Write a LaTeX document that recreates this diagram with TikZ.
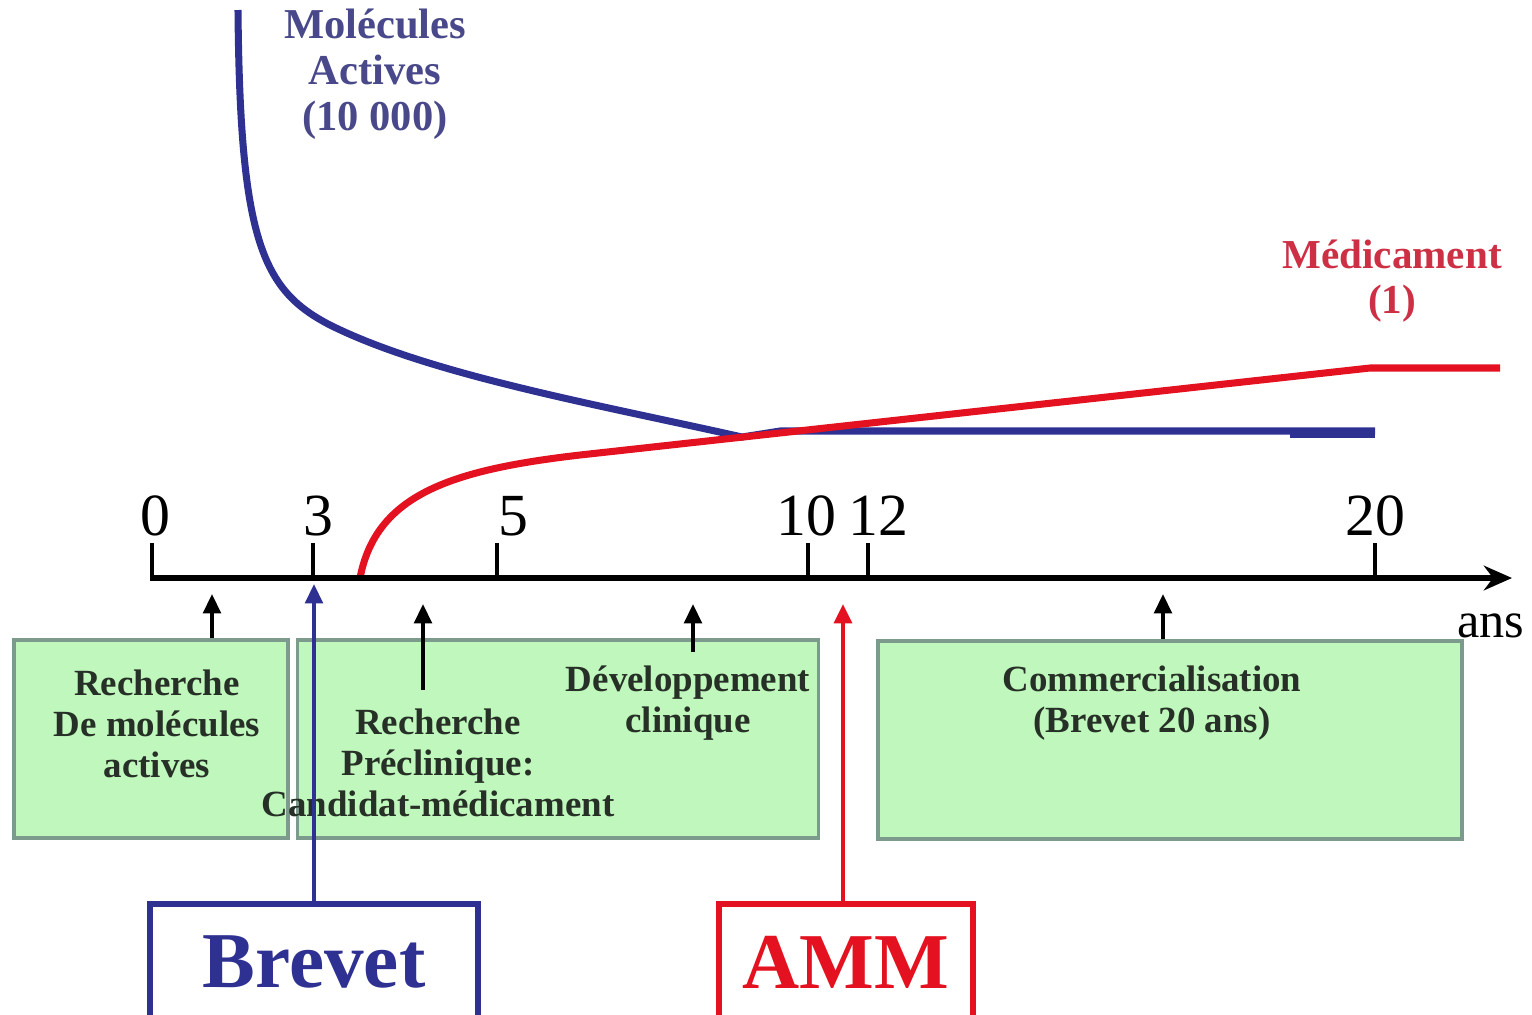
\documentclass[tikz,border=0pt]{standalone}
\usepackage{fontspec}
\setmainfont{Liberation Serif}
\usetikzlibrary{arrows.meta}
\definecolor{molblue}{RGB}{46,49,146}
\definecolor{medred}{RGB}{228,18,32}
\definecolor{boxgreen}{RGB}{192,247,188}
\definecolor{boxedge}{RGB}{125,155,140}
\definecolor{boxtext}{RGB}{38,48,38}
\definecolor{labblue}{RGB}{72,72,138}
\definecolor{labred}{RGB}{205,48,68}

\begin{document}
\begin{tikzpicture}[
  x=0.01cm,
  y=-0.01cm,
  blue curve/.style={
    draw,
    molblue,
    line width=2pt
  },
  red curve/.style={
    draw,
    medred,
    line width=2pt
  },
  axis line/.style={
    line width=1.7pt,
    -{Stealth[length=8pt,width=7pt]}
  },
  tick line/.style={
    line width=1.1pt
  },
  tick label/.style={
    anchor=base,
    inner sep=0pt,
    font=\fontsize{17}{17}\selectfont
  },
  phase box/.style={
    draw=boxedge,
    fill=boxgreen,
    line width=1pt,
    minimum height=1.98cm,
    inner sep=0pt
  },
  phase text/.style={
    align=center,
    text=boxtext,
    inner sep=0pt,
    font=\bfseries\fontsize{10.5}{11.7}\selectfont
  },
  up arrow/.style={
    line width=1pt,
    -{Triangle[length=5.5pt,width=5pt]}
  },
  event box/.style={
    draw,
    line width=1.7pt,
    minimum height=1.16cm,
    inner sep=0pt,
    font=\bfseries\fontsize{22.5}{24}\selectfont
  },
]
\useasboundingbox (0,0) rectangle (1532,1014);

\draw[blue curve] (238,10) .. controls (240,240) and (262,290) .. (330,325)
  .. controls (430,375) and (600,405) .. (742,437) -- (780,431) -- (1375,431);
\draw[blue curve, line width=2.8pt] (1290,433) -- (1375,433);
\draw[red curve] (360,578) .. controls (376,495) and (450,470) .. (580,455)
  -- (1370,368) -- (1500,368);

\node[align=center, text=labblue, font=\bfseries\fontsize{12.1}{13.1}\selectfont]
  (mollabel) at (375,74) {Molécules\\Actives\\(10~000)};
\node[align=center, text=labred, font=\bfseries\fontsize{11.7}{12.8}\selectfont]
  (medlabel) at (1392,281) {Médicament\\(1)};

\coordinate (origin) at (150,578);
\coordinate (axend) at (1512,578);
\draw[axis line] (origin) -- (axend);
\foreach \tx/\lx/\t in {152/155/0, 313/318/3, 497/513/5, 808/806/10, 868/878/12, 1375/1375/20} {
  \draw[tick line] (\tx,579) -- (\tx,543);
  \node[tick label] (tick\t) at (\lx,535) {\t};
}
\node[font=\fontsize{14.3}{15}\selectfont, inner sep=0pt] (anslabel) at (1491,626) {ans};

\node[phase box, minimum width=2.74cm] (rechbox) at (151,739) {};
\node[phase box, minimum width=5.21cm] (precbox) at (558,739) {};
\node[phase box, minimum width=5.84cm] (commbox) at (1170,740) {};

\node[phase text] (rechtxt) at (157,724) {Recherche\\De molécules\\actives};
\node[phase text] (prectxt) at (438,763) {Recherche\\Préclinique:\\Candidat-médicament};
\node[phase text] (devtxt) at (688,703) {Développement\\clinique};
\node[phase text] (commtxt) at (1152,703) {Commercialisation\\(Brevet 20 ans)};

\coordinate (p1) at (212,594);
\coordinate (s2) at (423,690);
\coordinate (p2) at (423,604);
\coordinate (s3) at (693,652);
\coordinate (p3) at (693,604);
\coordinate (p4) at (1163,594);
\draw[up arrow] (p1 |- rechbox.north) -- (p1);
\draw[up arrow] (s2) -- (p2);
\draw[up arrow] (s3) -- (p3);
\draw[up arrow] (p4 |- commbox.north) -- (p4);

\node[event box, draw=molblue, text=molblue, minimum width=3.28cm] (brevet) at (314,962) {Brevet};
\node[event box, draw=medred, text=medred, minimum width=2.54cm] (amm) at (846,962) {AMM};
\coordinate (brevetpt) at (314,584);
\coordinate (ammpt) at (843,604);
\draw[up arrow, molblue] (brevetpt |- brevet.north) -- (brevetpt);
\draw[up arrow, medred, line width=1.2pt] (ammpt |- amm.north) -- (ammpt);
\end{tikzpicture}
\end{document}
